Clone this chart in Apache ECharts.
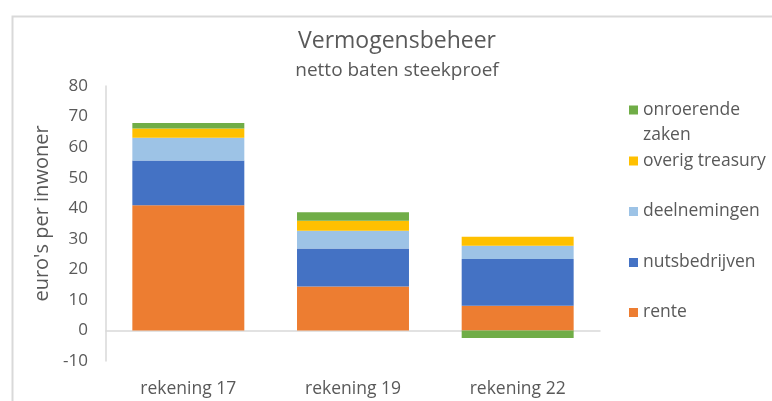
<!DOCTYPE html>
<html>
<head>
<meta charset="utf-8">
<script src="https://cdn.jsdelivr.net/npm/echarts@6/dist/echarts.min.js"></script>
<style>
html, body { margin: 0; padding: 0; background: #fff; }
#chart { width: 772px; height: 401px; }
</style>
</head>
<body>
<div id="chart"></div>
<script>
var categories = ['rekening 17', 'rekening 19', 'rekening 22'];
var rente = [41, 14.4, 8.1];
var nutsbedrijven = [14.6, 12.4, 15.3];
var deelnemingen = [7.5, 5.8, 4.3];
var overigTreasury = [3.0, 3.3, 3.0];
var onroerendeZaken = [1.8, 2.8, -2.5];
var yTicks = [-10, 80, 10]; // min, max, interval

var fontName = '"Open Sans", sans-serif';
var chart = echarts.init(document.getElementById('chart'));

function bar(name, data, color) {
    return {
        name: name,
        type: 'bar',
        stack: 'totaal',
        data: data,
        barCategoryGap: '32%',
        itemStyle: { color: color },
        animation: false
    };
}

// legend per item, so every entry can sit where it is in the picture
function legendItem(name, top, twoLines) {
    return {
        data: [name],
        left: 624,
        top: top,
        itemWidth: 9,
        // square on top of a taller box -> square lines up with first text line
        itemHeight: twoLines ? 34 : 9,
        icon: twoLines ? 'path://M0,0h9v9h-9z M0,34h0.01' : 'rect',
        itemGap: 8,
        selectedMode: false,
        formatter: function (n) {
            return n == 'onroerende zaken' ? 'onroerende\nzaken' : n;
        },
        textStyle: { color: '#595959', fontSize: 17.5, fontFamily: fontName, lineHeight: 25 }
    };
}

var option = {
    backgroundColor: '#fff',
    graphic: [{
        type: 'rect',
        left: 10, top: 14,
        shape: { width: 800, height: 500 },
        style: { fill: 'none', stroke: '#d9d9d9', lineWidth: 2 },
        silent: true
    }],
    title: {
        text: 'Vermogensbeheer',
        subtext: 'netto baten steekproef',
        left: 392,
        textAlign: 'center',
        top: 25,
        itemGap: 8,
        textStyle: { color: '#595959', fontSize: 23, fontWeight: 'normal', fontFamily: fontName },
        subtextStyle: { color: '#595959', fontSize: 19, fontFamily: fontName }
    },
    legend: [
        legendItem('onroerende zaken', 92.5, true),
        legendItem('overig treasury', 143.5),
        legendItem('deelnemingen', 194),
        legendItem('nutsbedrijven', 245),
        legendItem('rente', 295)
    ],
    grid: { left: 106, right: 172, top: 86, bottom: 40 },
    xAxis: [{
        type: 'category',
        data: categories,
        axisLine: { onZero: true, lineStyle: { color: '#d9d9d9', width: 1.5 } },
        axisTick: { show: false },
        axisLabel: { show: false }
    }, {
        type: 'category',
        data: categories,
        position: 'bottom',
        axisLine: { show: false, onZero: false },
        axisTick: { show: false },
        axisLabel: { color: '#595959', fontSize: 17.5, fontFamily: fontName, margin: 19 }
    }],
    yAxis: {
        type: 'value',
        min: yTicks[0],
        max: yTicks[1],
        interval: yTicks[2],
        name: "euro's per inwoner",
        nameLocation: 'middle',
        nameGap: 52,
        nameTextStyle: { color: '#595959', fontSize: 20, fontFamily: fontName, padding: [0, 0, 0, 20] },
        axisLine: { show: true, lineStyle: { color: '#d9d9d9', width: 1.5 } },
        axisTick: { show: false },
        splitLine: { show: false },
        axisLabel: { color: '#595959', fontSize: 17, fontFamily: fontName, margin: 18 }
    },
    series: [
        bar('rente', rente, '#ED7D31'),
        bar('nutsbedrijven', nutsbedrijven, '#4472C4'),
        bar('deelnemingen', deelnemingen, '#9DC3E6'),
        bar('overig treasury', overigTreasury, '#FFC000'),
        bar('onroerende zaken', onroerendeZaken, '#70AD47')
    ]
};

chart.setOption(option);
</script>
</body>
</html>
